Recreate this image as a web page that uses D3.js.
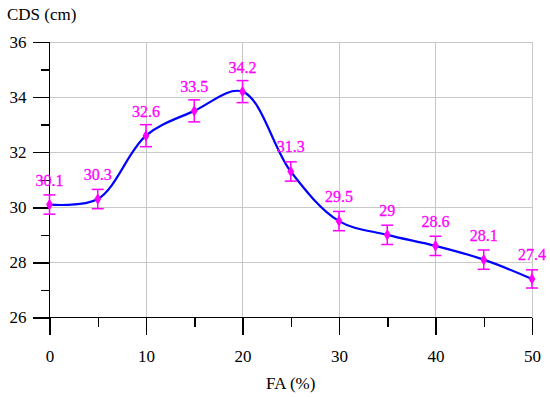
<!DOCTYPE html>
<meta charset="utf-8">
<head>
<style>
  body { margin: 0; background: #fff; }
  .grid line { stroke: #c8c8c8; stroke-width: 1px; shape-rendering: crispEdges; }
  .axis path, .axis line { stroke: #000; stroke-width: 1.5px; fill: none; shape-rendering: crispEdges; }
  .axis text { font-size: 17px; fill: #000; }
  .lbl { font-size: 16px; fill: #ff00ff; stroke: #ff00ff; stroke-width: 0.3px; }
</style>
</head>
<body>
<svg id="chart" width="550" height="397"></svg>
<script src="https://d3js.org/d3.v7.min.js"></script>
<script>
// data
var faPct = [0, 5, 10, 15, 20, 25, 30, 35, 40, 45, 50];
var cds = [30.1, 30.3, 32.6, 33.5, 34.2, 31.3, 29.5, 29, 28.6, 28.1, 27.4];
var errs = [0.35, 0.35, 0.4, 0.4, 0.4, 0.35, 0.35, 0.35, 0.35, 0.35, 0.33];
var xTicks = [0, 10, 20, 30, 40, 50];
var xMinor = [5, 15, 25, 35, 45];
var yTicks = [26, 28, 30, 32, 34, 36];
var yMinor = [27, 29, 31, 33, 35];

var serif = "'Liberation Serif', 'DejaVu Serif', serif";
var svg = d3.select("#chart").attr("font-family", serif);
var m = {left: 49.5, right: 532, top: 42, bottom: 317.5};

var x = d3.scaleLinear().domain([0, 50]).range([m.left, m.right]);
var y = d3.scaleLinear().domain([26, 36]).range([m.bottom, m.top]);

// gridlines
var grid = svg.append("g").attr("class", "grid");
grid.selectAll(".gx").data(xTicks.slice(1)).enter().append("line")
    .attr("x1", d => x(d)).attr("x2", d => x(d))
    .attr("y1", m.top).attr("y2", m.bottom);
grid.selectAll(".gy").data(yTicks.slice(1)).enter().append("line")
    .attr("x1", m.left).attr("x2", m.right)
    .attr("y1", d => y(d)).attr("y2", d => y(d));

// axes
var xAxis = svg.append("g").attr("class", "axis")
    .attr("transform", "translate(0," + m.bottom + ")")
    .call(d3.axisBottom(x).tickValues(xTicks).tickSize(17).tickSizeOuter(0).tickPadding(15));
xAxis.select(".domain").attr("d", "M" + m.left + ",0H" + m.right);
svg.append("g").attr("class", "axis")
    .attr("transform", "translate(0," + m.bottom + ")")
    .call(d3.axisBottom(x).tickValues(xMinor).tickSize(9).tickFormat(""))
    .select(".domain").remove();

var yAxis = svg.append("g").attr("class", "axis")
    .attr("transform", "translate(" + m.left + ",0)")
    .call(d3.axisLeft(y).tickValues(yTicks).tickSize(17).tickSizeOuter(0).tickPadding(6));
yAxis.select(".domain").attr("d", "M0," + m.top + "V" + m.bottom);
svg.append("g").attr("class", "axis")
    .attr("transform", "translate(" + m.left + ",0)")
    .call(d3.axisLeft(y).tickValues(yMinor).tickSize(9).tickFormat(""))
    .select(".domain").remove();
svg.selectAll(".axis").attr("font-family", serif);

// axis titles
svg.append("text").attr("x", 7).attr("y", 20).attr("font-size", 17).text("CDS (cm)");
svg.append("text").attr("x", (m.left + m.right) / 2).attr("y", 389)
    .attr("text-anchor", "middle").attr("font-size", 17).text("FA (%)");

var pts = faPct.map((d, i) => ({ fa: d, v: cds[i], e: errs[i] }));

// smooth line
var line = d3.line().x(d => x(d.fa)).y(d => y(d.v)).curve(d3.curveCatmullRom.alpha(0.5));
svg.append("path").datum(pts)
    .attr("d", line)
    .attr("fill", "none").attr("stroke", "#0000ff").attr("stroke-width", 2.2);

// error bars
var eb = svg.append("g").attr("stroke", "#ff00ff").attr("stroke-width", 1.5);
eb.selectAll(".ev").data(pts).enter().append("line")
    .attr("x1", d => x(d.fa)).attr("x2", d => x(d.fa))
    .attr("y1", d => y(d.v + d.e)).attr("y2", d => y(d.v - d.e));
eb.selectAll(".et").data(pts).enter().append("line")
    .attr("x1", d => x(d.fa) - 6).attr("x2", d => x(d.fa) + 6)
    .attr("y1", d => y(d.v + d.e)).attr("y2", d => y(d.v + d.e));
eb.selectAll(".eb").data(pts).enter().append("line")
    .attr("x1", d => x(d.fa) - 6).attr("x2", d => x(d.fa) + 6)
    .attr("y1", d => y(d.v - d.e)).attr("y2", d => y(d.v - d.e));

// diamond markers
svg.selectAll(".mk").data(pts).enter().append("path")
    .attr("d", d3.symbol().type(d3.symbolDiamond).size(40))
    .attr("transform", d => "translate(" + x(d.fa) + "," + y(d.v) + ")")
    .attr("fill", "#ff00ff");

// value labels
svg.selectAll(".lbl").data(pts).enter().append("text")
    .attr("class", "lbl")
    .attr("x", d => x(d.fa)).attr("y", d => y(d.v) - 19)
    .attr("text-anchor", "middle")
    .text(d => d.v);
</script>
</body>
</html>
